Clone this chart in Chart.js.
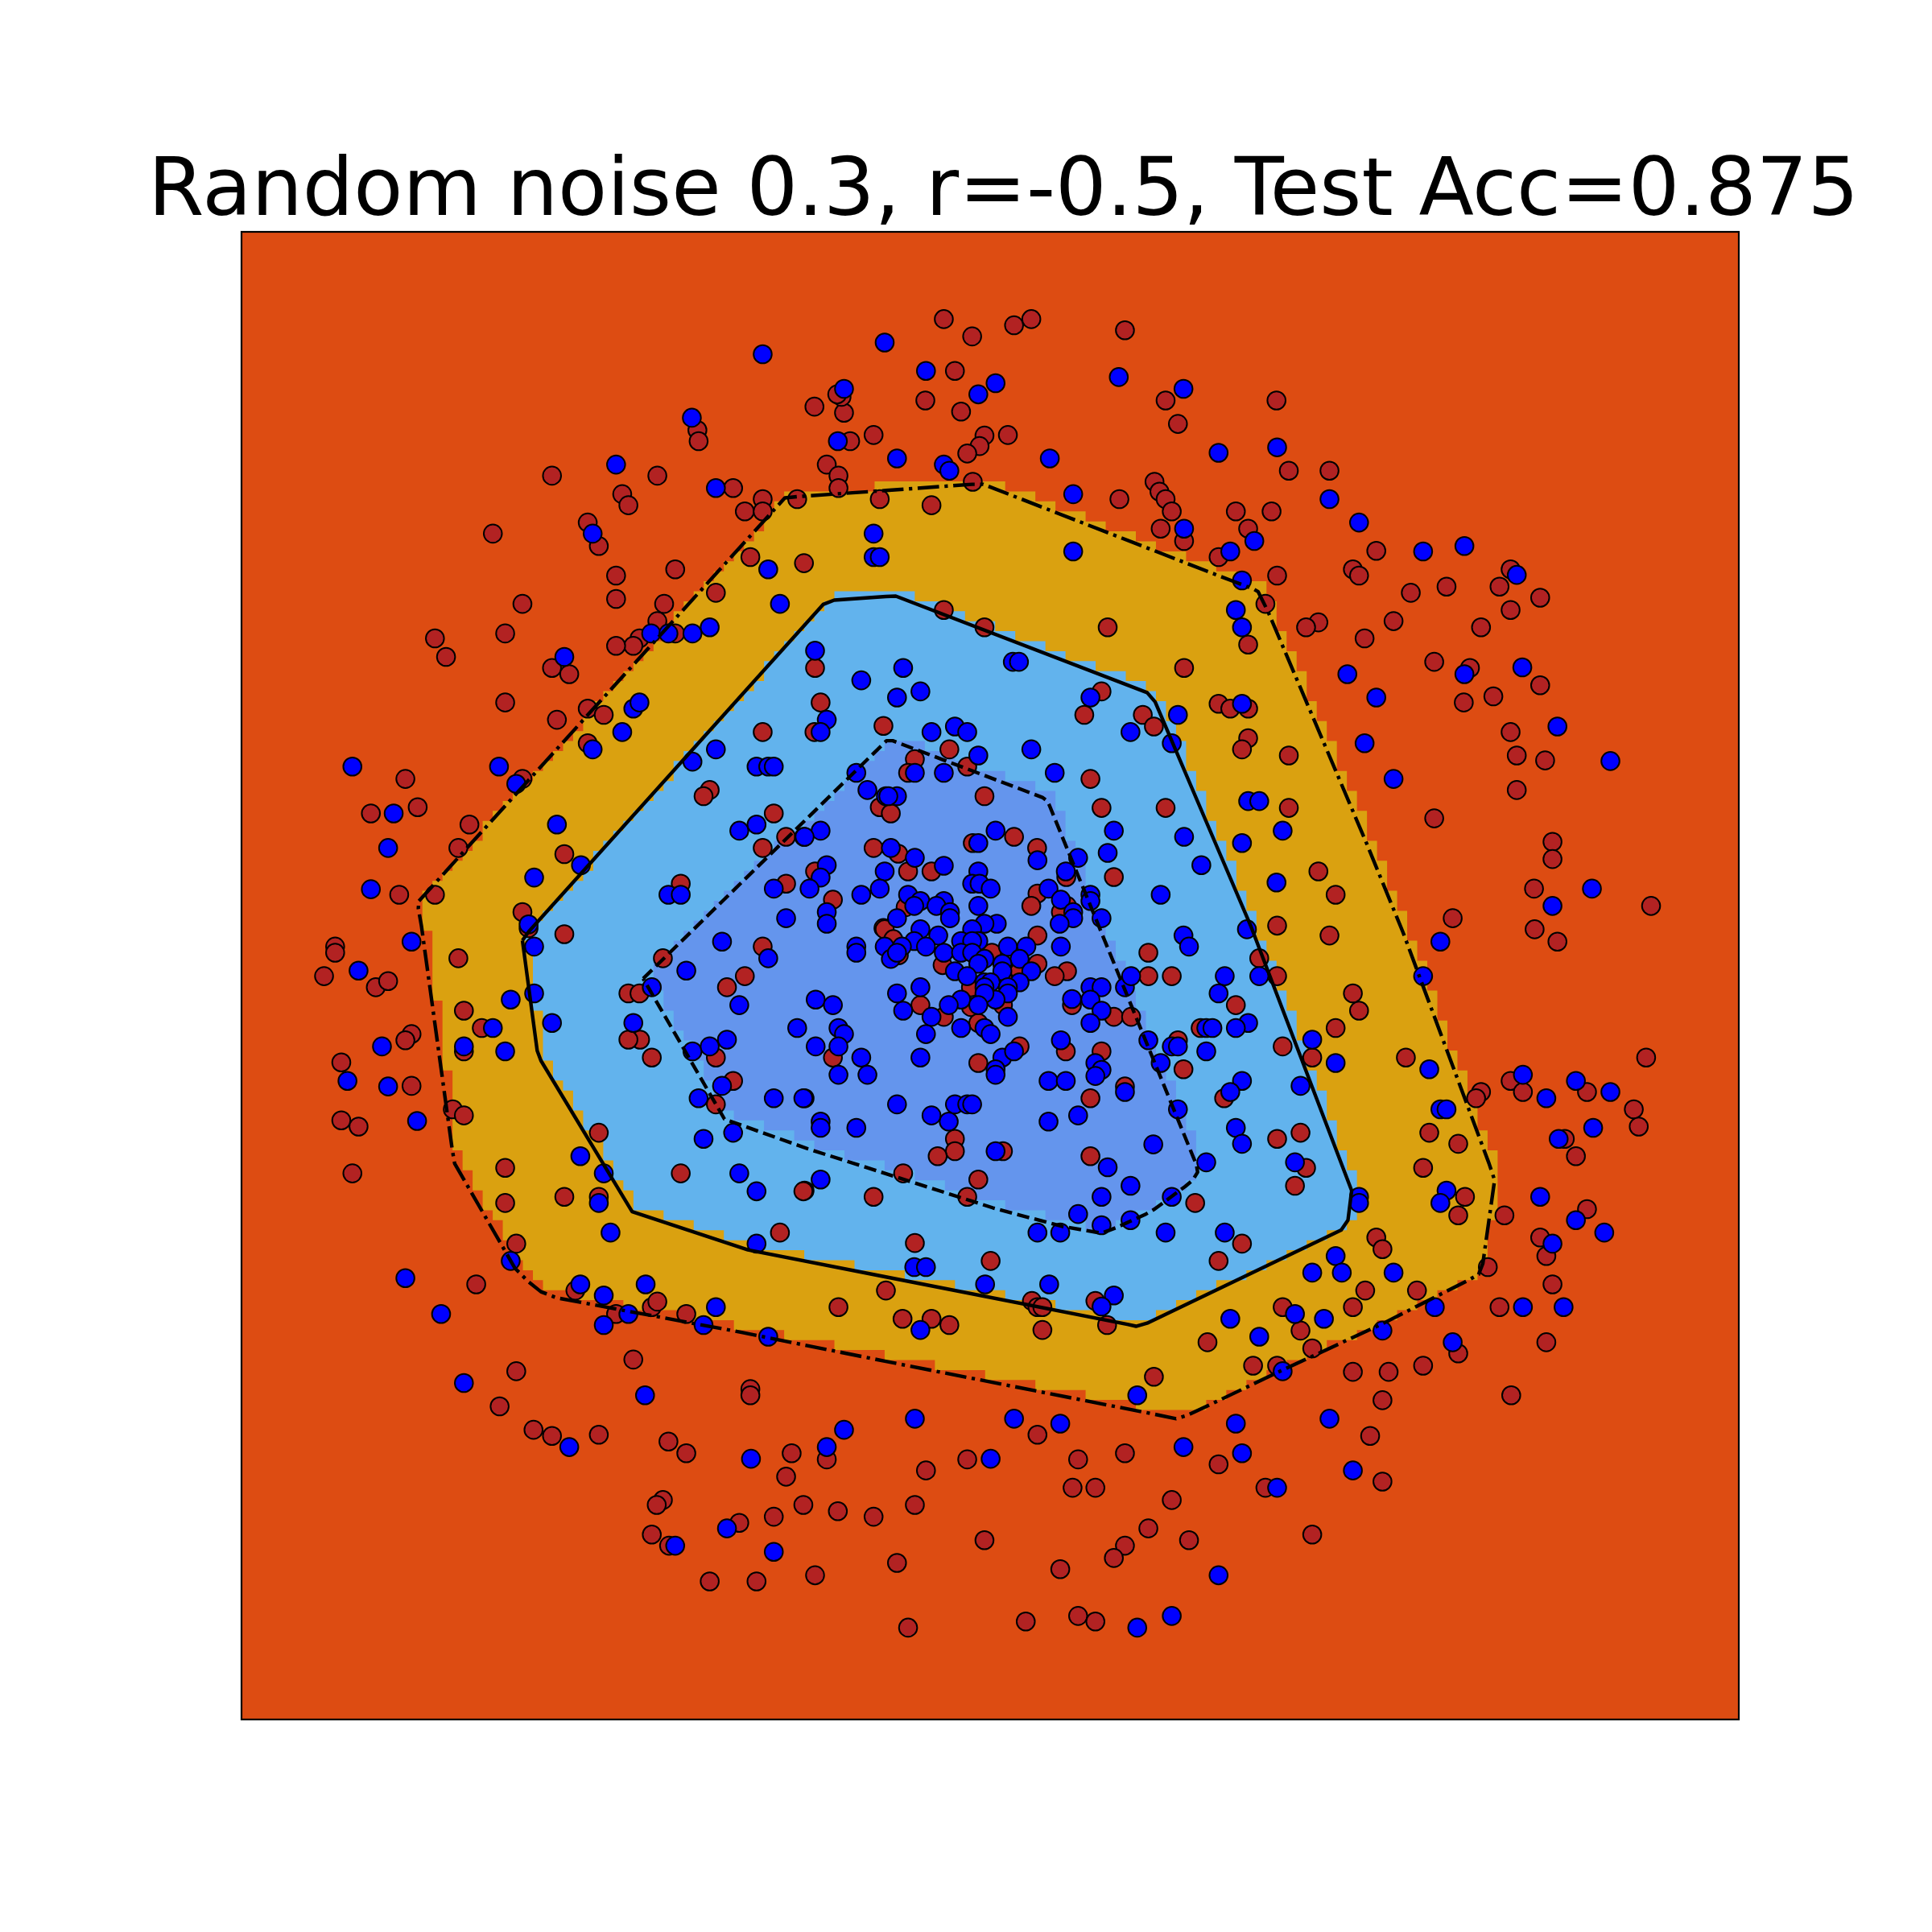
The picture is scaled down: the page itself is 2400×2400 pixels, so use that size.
<!DOCTYPE html>
<html>
<head>
<meta charset="utf-8">
<title>Random noise</title>
<script src="https://cdn.jsdelivr.net/npm/chart.js@4"></script>
<style>
  html, body { margin: 0; padding: 0; background: #fff; }
  canvas { display: block; }
</style>
</head>
<body>
<canvas id="plot" width="2400" height="2400"></canvas>
<script>
// values, no tick labels in the original so the units are arbitrary
const titleText = 'Random noise 0.3, r=-0.5, Test Acc=0.875';

const redPoints = [
  [766,259],[789,273],[823,264],[837,259],[913,268],[775,301],[751,325],[780,334],[661,330],[685,335],[683,322],[679.5,320],[946,325],[1036,325],[956,344],[566,349],[567,358],[709,353],[818,353],[799,353.5],[690,358],[795,362],[785,368],
  [671,377],[680.5,386],[680.5,396],[448,386],[533.5,386],[595,396],[505,401],[510,410],[604.5,415],[619,405],[619,415],[647,405],[714,405],[789.5,391],[756,410],[908.5,405],[937,391],[941,399],[946,405],[951,415],
  [1046,382],[1079,382],[1003,415],[1032,415],[1013,429],[942,429],[961,439],[989,452],[1036.5,467],[1098,462],[1103,467],[1027,490],[1013,523],[1070,505],[1060,509],[1107.5,518],[899,509],[766,495],[799,509],[961,542],
  [894,561],[880,580],[927.5,580],[936.5,589.5],[989,571],[998.5,575],[1013,575],[1013,599],[1008,608],[1046,613],[400,433],[477,424],[486,443],[500,467],[500,486],[548,462],[424,490],[539,490],[410,514],[353,518],
  [362,533],[533.5,504],[548,514],[519,518],[514,524],[500,524],[448,542],[462,547],[410,570],[477,575],[490,580],[452,584],[477,603],[424,632],[329,632],[339,655],[381,669],[372,688],[353,726],[424,740],
  [429,753],[458,693],[458,758],[609,452],[652.5,457],[581,481],[661.5,542],[666,570],[661,594],[619,594],[717,589],[576,641],[571,646],[628,660],[638,679],[619,688],[709,688],[714,655],[661.5,707],[638,717],
  [552.5,717],[676,730],[717,753],[770.5,608],[742.5,616],[737,627],[785,622],[799,646],[723,660],[885,632],[894,655.5],[946,655.5],[1046,655.5],[823,679],[789.5,684],[841.7,688],[729,692.7],
  [737,707],[756,707],[865.4,711.6],[904,711.6],[842,725],[837,735],[866,735],[735,736],[861,740],[718,754],[725,762],[729.5,775],[842,759],[805,773],[765,783],[842,782],[866,788],[856,792],[932,773],[932,792],
  [951,792],[788,801],[827.5,788],[814,793],[747,815.5],[766,825],[788,817],[814,815.5],[794,830],[870,815.5],[904,825],[918,825],[974.4,834],[956,844],[827.5,849],[865,853],[894,853],[676,858],[794,862.5],[960.5,867.5],
  [913,881.5],[885,891],[775,924],[775,934],[761,938],[814,934],[885,938],[733,952],[794,957],[785,971],[709,971],[653,966],[970,976],
  [372,777.5],[334,839],[329,844],[376.5,820],[391,834],[376.5,853],[334,881],[367.5,900],[376.5,905],[410,947.5],[410,976],[419,1009],[386.5,1042],[419,1112.5],[405.5,1141],[486,919],[458,971],[486,971],[467,1047],[500,1066],
  [529,1060.5],[533.5,1056],[557,1066],[514,1103],[609,1127],[609,1132],[538,777.5],[510,806],[519,806],[519.5,843.5],[510,843.5],[529,858],[581,858],[590,801],[604.5,792],[619,768],[595,877],[581,896],[552.5,952],[652,966.5],
  [633,1000],[680.5,1060.5],[719,1047],
  [1022,777.5],[1036.5,792],[1036.5,751],[1079,759],[1098,806],[1103,820],[1084,834],[1141,858],[1065,858],[1041,849],[1003,815.5],[993.5,891],[1179,745],[1245.5,754],[1264,764],[1226,877],[1236,886],[1288,886],[1202,886],[1198,891],
  [1270,924],[1279,938],[1160,919],[1183.5,928],[1155,947.5],[1036.5,924],[1055.5,919],[1060,947.5],[1051,962],[1189,971],[1183.5,986],[1221,986],[1288,981],[1250,1004],[1255,1019],[1207.5,1028],[1260,1042],[1008,1009],[989,1023],[1117,1004],
  [1122,1013.5],[1108,1047],[1150,1047],[1041,1060.5],[1098,1060.5],[1055.5,1079.5],[1065,1094],[1217,1060.5],[980,1089],[1017,1108],[1036.5,1108],[936.5,1117],[1098,1113],[1127,1113],[1155,1108],[1183.5,1098],[1255,1089],[1122,1136],[1226.5,1132],
  [1117,447],[1226,462],[1217,476],[1174,476],[1145,481],[1250,485],[1226,495],[1131,504],[1202,509],[1164,537],[1193,542],[1250,556],[1188,570],[1212,565],[1226,594],[1231,613],[1254,617],[1231,641],[1164,664],[1260,683],[1260,697],
  [1245,721],[1340,735],[1070,707],[1084,726],[1336,858],[1326,900],[1330,914],
  [272,768],[272,773],[263,792],[305,801],[315,796],[324,726],[301,660],[277,862],[277,909],[291,914],[286,952],
  [433,1160],[448,1165],[486,1164],[542.5,1169.5],[557,1179],[642.5,1179],[671,1184],[638,1198],[751.5,1193],[785,1184],[875,1184],[913,1179],[870.5,1207],[889,1207],[951,1217],[1027,1207],[989,1188],[538,1217],[533,1221],[600,1235.5],
  [628,1230.5],[652,1221],[680,1226],[709,1230.5],[742.5,1221],[529,1245],[543,1254],[932,1240],[965,1249.5],[913,1254],[904,1264],[799,1249.5],[1065,1245],[728,1268],[661.5,1278],[576,1283],[614,1283],[860.5,1273],[875,1311],[889,1315.5],
  [832.5,1315.5],[737,1320.5],[842,1164],[1112,1165],[1122,1202],[742.5,1008.5],[804,1023],[837.5,1055.5],[842,1060.5],[846,1060.5],[846,1079],[770.5,1075],[732.5,1070],[756,1070],[889,1055.5],[898.5,1075]
];

const bluePoints = [
  [619,287.5],[718,278],[751.5,301],[808,311],[794,320],[685,315.5],[908,306],[960.5,315.5],[561.5,339],[680,358],[728,372],[766,377],[770.5,382],[852,372],[989,367.5],[1036.5,363],[500,377],[581,396],[871,401],
  [1079,405],[1103,424],[961,429],[998.5,447.5],[1018,439],[871,447.5],[1155,447.5],[1188.5,443],[1231,466.5],[1008,471],[1003,495],[1008,509],[1093.5,547],[1117,566],[1188.5,547],[1235.5,541.5],[1264,589.5],[1107.5,603],[1131,632],[1307,617.5],
  [1292,721],[1260,735],[286,622],[319.5,660],[315,688],[301,721.5],[334,764],[291,787.5],[310,849],[282,877],[315,881.5],[338.5,909.5],[329,1037],[358,1066],[376.5,1122],[462,1174],[481,433],[709,433],[709,452],[714,452],
  [623.5,462],[633,490],[528.5,514],[542.5,514],[562,514],[576,509],[458,533],[514,575],[519,570],[505,594],[481,608],[405,622],[419,636],[452,669],[471.5,702],[433.5,712],[429,750],[661.5,528],[699,552],[671,584],
  [666,594],[581,608],[562,618],[614,622],[623.5,622],[628,622],[695,627],[704,641],[719,646],[600,674],[614,669],[652.5,679],[666,674],[671,702],[666,712],[657,721],[628,721],[542.5,726],[552.5,726],[671,740],
  [671,749.5],[638,745],[822,537],[827,537],[733,542],[747,561],[728,566],[885,566],[956,580],[1008,571],[775,589.5],[756,594],[785,594],[917.5,594],[951,603],[837,608],[794,613],[766,627],[742.5,627],[856,627],
  [728,646],[721,646],[1013,650],[1022,650],[1041,674],[808,674],[904,674],[961,679],[1008,684],[794,684],[899,692],[723,688],[875,696],[742.5,696],
  [653,679],[842,698],[975,702],[718,707],[766,702.5],[794,707],[865,707],[789,717],[795,717],[804,721],[714,721],[699,726],[737,726],[851,721],[942,726],[861,730],[885,726],[885,731],[794,735],[747,731],
  [742,735],[766,731],[760,735],[771,740],[771,745],[728,745],[871,740],[871,745],[894,745],[860,749.5],[809,749.5],[799,749.5],[789,754],[747,754],[761.5,759],[960.5,759],[965,768],[861,768],[742,763.5],[718,768],
  [732,768],[695,768],[695,773],[751.5,768],[780,763.5],[794,763.5],[789,763.5],[818,768],[833,768],[766,773],[780,773],[789,773],[723,778],[728,773],[827.5,778],[799,778],[794,782],[813.5,782],[813.5,788],[775,788],
  [785,792],[837,788],[799,797],[804,797],[827.5,797],[818,801],[799,801],[728,806],[747,801],[818,806],[808,811],[780,811],[799,806],[770,815.5],[794,815.5],[733,820],[662,811],[676,815.5],[756,825],[818,825],
  [780,834],[799,834],[804,839],[751.5,839],[680.5,834],[685,839],[662,849],[680.5,849],[699,858],[680.5,872],[704,872],[747,858],[813.5,858],[823,853],[808,867.5],[808,872],[861,844],[870,810.5],[885,801],[894,801],
  [885,811],[894,820],[885,830],[913,801],[918,792],[932,844],[942,862.5],[951,849],[956,849],[979,834],[979,853],[889,862.5],[894,868],[889,873],[851,877],[865,877],[913,886],[653,891],[728,896],[775,896],
  [785,896],[789,896],[756,905],[770,910],[666,910],[666,915],[695,915],[851,910],[875,905],[956,900],[936,928.5],[808,934],[979,943],[899,947],[917.5,962],[894,971],[951,971],[666,957],[875,985],
  [433.5,768],[433.5,806],[414.5,811],[400,834],[376.5,849],[410,853],[448,830],[471,938],[490,952],[486,976],[495.5,1000],[414.5,1023],[523.5,1132],[471,1042],[490,1051],[524,1042],[510,1066],[490,1075],[581,1060.5],[571,1075],
  [623.5,1084.5],[586,764],[557,787.5],[529,801],[623.5,777.5],[600,815.5],[514,830],[562,853],[576,849],[590,843.5],[586,881],[567,891],[571,924],[595,919],[600,952],[614,966.5],[614,1009],[628,891],[652,891],[647,834],
  [994,792],[1022,792],[989,806],[1013,830],[984,834],[1003,834],[1008,877],[998.5,886],[1003,915],[1008,928],[994,1000],[1051,943],[1055.5,881],[1065,843.5],[1084,862.5],[1103,971],[1103,976],[1155,792],[1169,764],[1160,867.5],
  [1169,900],[1174,900],[1174,966],[1169,976],[1236,872],[1255,891],[1279,877],[1307,886],[1265,924],[1293,915],[1250,971],[1279,990],[1260,1009],[1302,1000],[1084,1019],[1065,1032.5],[1089,1032.5],[1131,1032.5],[1051,1066],[1074.5,1070],
  [998.5,1070],[1022,1084.5],[1041,1112.5],[1122,1079.5],[1164.5,1060.5],[1236,1060.5],[1269,1060.5],[1179,1089],[923,1132],[917.5,990],[946,1000],[1036,716],[1012,754],
  [609.5,1183.5],[685,1160],[671,1174],[742.5,1151],[823,1151],[860.5,1155],[960.5,1174],[1003,1155],[1008,1179],[1036.5,1207],[1079,1151],[1098,1193],[548,1254],[590,1240],[628,1259],[989,1278],[951,1311],[923,1320.5],[804,1183.5],[842,1000],
  [860.5,1000],[894,994],[742,1028],[751.5,1028],[799.5,1042],[851.5,1042],[904,1051],[894,1060],[747,1079]
];

// the three decision contours
const outerContour = [
  [340,731],[637,404],[647,403],[719,398],[789,393],[798,393],[999,471],[1017.5,478],[1021,480],[1024,486],[1029,496],[1109,684],[1138.5,756],[1208.5,944],[1213,957.5],[1203.5,1025],[1200,1034],[1191,1039],[1122,1074],[1042,1111],
  [976,1142.5],[963,1148.5],[954.5,1151],[935,1147],[719,1104.5],[602,1081],[452,1053],[439,1048],[429,1040],[418,1029],[369,944],[367,932.5],[342,751],[339.5,737],[340,731]
];
const middleContour = [
  [424,763],[429,756],[668,490.5],[677,487],[719,484],[727,483.7],[931,562],[937.5,569.5],[990,692.5],[1015,751],[1097,966],[1094,990],[1088.5,998],[931,1073.5],[922,1076],[915,1074.5],[719,1036],[607,1014],[513,983],[439,860.5],
  [436,852.5],[424,763]
];
const innerContour = [
  [522,794],[564,753],[719.5,601],[724.5,601],[846,647],[850,650],[851.5,653],[971,945],[972,951],[968,957.5],[962,962.5],[937,981],[930,985],[906,996],[894,1000.5],[862,995],[806,980],[655.5,932],[588,908],[522,794]
];

const orange = '#DD4C12';
const gold = '#DAA110';
const lightBlue = '#62B3ED';
const cornflower = '#6495ED';

// axis limits of the plot box
const xMin = 196, xMax = 1411.2, yMin = 188.2, yMax = 1395;
const cells = 149;

function toXY(list) {
  return list.map(p => ({ x: p[0], y: p[1] }));
}

// the coloured regions are a coarse mesh in the original, so the contour gets a blocky edge
function blockyOutline(contour) {
  let dx = (xMax - xMin) / cells, dy = (yMax - yMin) / cells;
  let rightSide = [], leftSide = [];
  for (let j = 0; j <= cells; j++) {
    let y = yMin + j * dy;
    let hits = [];
    for (let k = 0; k < contour.length - 1; k++) {
      let a = contour[k], b = contour[k + 1];
      if ((a[1] <= y) != (b[1] <= y)) {
        hits.push(a[0] + (y - a[1]) / (b[1] - a[1]) * (b[0] - a[0]));
      }
    }
    if (hits.length < 2) continue;
    let left = xMin + Math.ceil((Math.min(...hits) - xMin) / dx) * dx;
    let right = xMin + (Math.floor((Math.max(...hits) - xMin) / dx) + 1) * dx;
    rightSide.push({ x: right, y: y - dy }, { x: right, y: y });
    leftSide.unshift({ x: left, y: y - dy });
    leftSide.unshift({ x: left, y: y });
  }
  let outline = rightSide.concat(leftSide);
  outline.push(outline[0]);
  return outline;
}

function region(contour, color, order) {
  return {
    data: blockyOutline(contour),
    showLine: true,
    fill: 'shape',
    backgroundColor: color,
    borderWidth: 0,
    pointRadius: 0,
    order: order
  };
}

function contourLine(contour, dash, order) {
  return {
    data: toXY(contour),
    showLine: true,
    fill: false,
    borderColor: '#000',
    borderWidth: 4.4,
    borderDash: dash,
    borderJoinStyle: 'round',
    pointRadius: 0,
    order: order
  };
}

function dots(list, color, order) {
  return {
    data: toXY(list),
    backgroundColor: color,
    borderColor: '#000',
    borderWidth: 2,
    pointRadius: 11.3,
    order: order
  };
}

const plotBox = {
  id: 'plotBox',
  afterLayout(chart) {
    // the title sits a little right of the box and is wider than it
    chart.titleBlock.left = 172.5;
    chart.titleBlock.right = 2320.5;
  },
  beforeDatasetsDraw(chart) {
    let a = chart.chartArea, ctx = chart.ctx;
    ctx.save();
    ctx.fillStyle = orange;
    ctx.fillRect(a.left, a.top, a.right - a.left, a.bottom - a.top);
    ctx.restore();
  },
  afterDraw(chart) {
    let a = chart.chartArea, ctx = chart.ctx;
    ctx.save();
    ctx.strokeStyle = '#000';
    ctx.lineWidth = 2.2;
    ctx.strokeRect(a.left, a.top, a.right - a.left, a.bottom - a.top);
    ctx.restore();
  }
};

new Chart(document.getElementById('plot'), {
  type: 'scatter',
  data: {
    datasets: [
      contourLine(innerContour, [15.4, 6.7], 0),
      contourLine(middleContour, [], 0),
      contourLine(outerContour, [26.7, 6.7, 4.2, 6.7], 0),
      dots(bluePoints, '#0000FF', 1),
      dots(redPoints, '#B22222', 2),
      region(innerContour, cornflower, 3),
      region(middleContour, lightBlue, 4),
      region(outerContour, gold, 5)
    ]
  },
  plugins: [plotBox],
  options: {
    responsive: false,
    animation: false,
    layout: { padding: { left: 300, right: 240, top: 200, bottom: 264 } },
    scales: {
      x: { type: 'linear', min: xMin, max: xMax, display: false },
      y: { type: 'linear', min: yMin, max: yMax, reverse: true, display: false }
    },
    plugins: {
      legend: { display: false },
      tooltip: { enabled: false },
      title: {
        display: true,
        text: titleText,
        color: '#000',
        font: { family: '"DejaVu Sans"', size: 100, weight: 'normal', lineHeight: 0.82 },
        padding: { top: 0, bottom: 6 }
      }
    }
  }
});
</script>
</body>
</html>
